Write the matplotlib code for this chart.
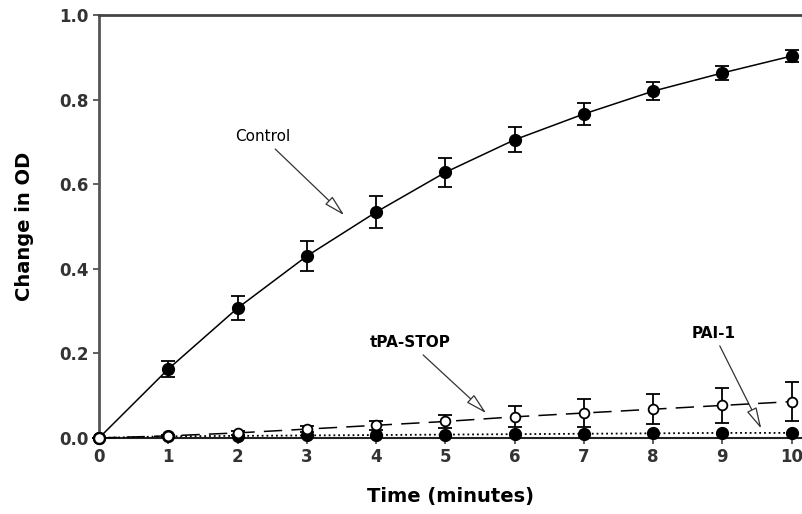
import numpy as np
import matplotlib.pyplot as plt

plt.rcParams['font.family'] = ['DejaVu Sans']

time = [0, 1, 2, 3, 4, 5, 6, 7, 8, 9, 10]
control = [0.0, 0.163, 0.307, 0.430, 0.534, 0.628, 0.705, 0.766, 0.820, 0.863, 0.903]
control_err = [0.0, 0.018, 0.028, 0.035, 0.037, 0.035, 0.030, 0.027, 0.022, 0.017, 0.015]
tpa_stop = [0.0, 0.005, 0.012, 0.021, 0.030, 0.039, 0.050, 0.059, 0.068, 0.077, 0.086]
tpa_err = [0.0, 0.003, 0.005, 0.007, 0.010, 0.015, 0.025, 0.032, 0.036, 0.042, 0.047]
pai1 = [0.0, 0.004, 0.005, 0.006, 0.007, 0.008, 0.009, 0.010, 0.011, 0.012, 0.012]
pai1_err = [0.0, 0.001, 0.001, 0.001, 0.001, 0.002, 0.002, 0.002, 0.002, 0.002, 0.002]

fig = plt.figure(figsize=(8.03, 5.14), dpi=100)
ax = fig.add_axes([0.1233, 0.1479, 0.8755, 0.8229])

ax.errorbar(time, pai1, yerr=pai1_err, color='black', ls=':', lw=1.3,
            marker='o', ms=8.5, mfc='black', mec='black', capsize=4, clip_on=False, zorder=3)
ax.errorbar(time, tpa_stop, yerr=tpa_err, color='black', ls=(0, (12, 6)), lw=1.1,
            marker='o', ms=7, mfc='white', mec='black', mew=1.3, capsize=5,
            elinewidth=1.3, capthick=1.3, clip_on=False, zorder=4)
ax.errorbar(time, control, yerr=control_err, color='black', ls='-', lw=1.1,
            marker='o', ms=8.5, mfc='black', mec='black', capsize=5,
            elinewidth=1.3, capthick=1.3, clip_on=False, zorder=5)
# open marker at origin
ax.plot([0], [0], marker='o', ms=7.5, mfc='white', mec='black', mew=1.3, clip_on=False, zorder=6)

ax.set_xlim(0, 10.15)
ax.set_ylim(0, 1.0)
ax.set_xticks(range(0, 11))
ax.set_yticks(np.arange(0, 1.01, 0.2))
ax.set_yticklabels(['%.1f' % v for v in np.arange(0, 1.01, 0.2)])

for lab in ax.get_xticklabels() + ax.get_yticklabels():
    lab.set_fontweight('bold')
    lab.set_fontsize(12)
ax.tick_params(direction='out', length=4, width=1.2, colors='#444444', labelcolor='#333333')

ax.spines['left'].set_color('#555555')
ax.spines['left'].set_linewidth(2)
ax.spines['top'].set_color('#444444')
ax.spines['top'].set_linewidth(2)
ax.spines['bottom'].set_color('#222222')
ax.spines['bottom'].set_linewidth(1.5)
ax.spines['right'].set_color('#cccccc')
ax.spines['right'].set_linewidth(1)

ax.set_xlabel('Time (minutes)', fontsize=14, fontweight='bold', labelpad=15)
ax.set_ylabel('Change in OD', fontsize=14, fontweight='bold', labelpad=18)

arrow = dict(arrowstyle='-|>,head_length=1.2,head_width=0.3', fc='white', ec='#333333', lw=0.9)
ax.annotate('Control', xy=(3.57, 0.522), xytext=(2.36, 0.712), fontsize=11,
            ha='center', va='center', arrowprops=arrow)
ax.annotate('tPA-STOP', xy=(5.62, 0.054), xytext=(4.49, 0.225), fontsize=11,
            fontweight='bold', ha='center', va='center', arrowprops=arrow)
ax.annotate('PAI-1', xy=(9.58, 0.016), xytext=(8.87, 0.248), fontsize=11,
            fontweight='bold', ha='center', va='center', arrowprops=arrow)

fig.savefig('out.png', dpi=100)
